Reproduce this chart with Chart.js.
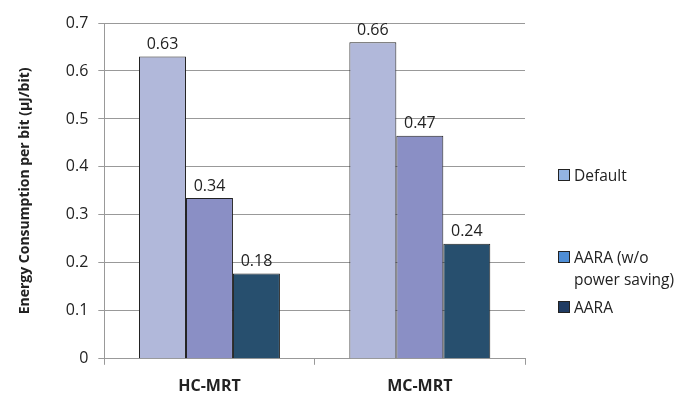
<!DOCTYPE html>
<html>
<head>
<meta charset="utf-8">
<script src="https://cdn.jsdelivr.net/npm/chart.js@4"></script>
<style>
  html, body { margin: 0; padding: 0; background: #fff; }
  #wrap { position: relative; width: 685px; height: 407px; }
  #legend { position: absolute; left: 558px; top: 162px; font-family: "Open Sans", sans-serif; font-size: 15.5px; color: #222; }
  .item { position: absolute; left: 0; white-space: nowrap; line-height: 22px; }
  .sw { position: absolute; left: 0; top: 5px; width: 10px; height: 10px; border: 1px solid #222; }
  .txt { position: absolute; left: 16px; top: 0; }
</style>
</head>
<body>
<div id="wrap">
  <canvas id="myChart" width="685" height="407"></canvas>
  <div id="legend"></div>
</div>
<script>
const categories = ["HC-MRT", "MC-MRT"];
const seriesNames = ["Default", "AARA (w/o power saving)", "AARA"];
const defaultValues = [0.63, 0.66];
const aaraNoSavingValues = [0.335, 0.465];
const aaraValues = [0.178, 0.24];
const valueLabels = [["0.63", "0.66"], ["0.34", "0.47"], ["0.18", "0.24"]];

const barColors = ["#b1b8da", "#8a8fc5", "#274f6e"];
const legendColors = ["#93b3e2", "#4f8ed6", "#1f3b62"];

// legend drawn as html so the two-line entry spacing matches
const legendEl = document.getElementById("legend");
const legendRows = [
  { top: 2, lines: ["Default"] },
  { top: 84, lines: ["AARA (w/o", "power saving)"] },
  { top: 134, lines: ["AARA"] },
];
legendRows.forEach((row, i) => {
  const d = document.createElement("div");
  d.className = "item";
  d.style.top = row.top + "px";
  d.innerHTML = '<span class="sw" style="background:' + legendColors[i] + '"></span>' +
    '<span class="txt">' + row.lines.join("<br>") + "</span>";
  legendEl.appendChild(d);
});

const valueLabelPlugin = {
  id: "valueLabels",
  afterDatasetsDraw(chart) {
    const c = chart.ctx;
    c.save();
    c.font = '16px "Open Sans", sans-serif';
    c.fillStyle = "#222";
    c.textAlign = "center";
    c.textBaseline = "bottom";
    chart.data.datasets.forEach((ds, i) => {
      chart.getDatasetMeta(i).data.forEach((bar, j) => {
        c.fillText(valueLabels[i][j], bar.x, bar.y - 4);
      });
    });
    c.restore();
  },
};

const ctx = document.getElementById("myChart");
new Chart(ctx, {
  type: "bar",
  data: {
    labels: categories,
    datasets: [
      { label: seriesNames[0], data: defaultValues, backgroundColor: barColors[0] },
      { label: seriesNames[1], data: aaraNoSavingValues, backgroundColor: barColors[1] },
      { label: seriesNames[2], data: aaraValues, backgroundColor: barColors[2] },
    ].map((d) => ({ ...d, borderColor: "#222", borderWidth: 1, categoryPercentage: 0.67, barPercentage: 1 })),
  },
  options: {
    responsive: false,
    animation: false,
    layout: { padding: { top: 23, right: 160, bottom: -1, left: 13 } },
    plugins: { legend: { display: false }, tooltip: { enabled: false } },
    scales: {
      x: {
        grid: { drawOnChartArea: false, drawTicks: true, tickLength: 6, color: "#999", offset: true },
        border: { color: "#999" },
        ticks: { color: "#222", font: { family: "Open Sans", size: 16, weight: "bold" }, padding: 12 },
      },
      y: {
        min: 0,
        max: 0.7,
        ticks: { stepSize: 0.1, color: "#222", font: { family: "Open Sans", size: 16 }, padding: 10,
          callback: (v) => (Math.round(v * 10) / 10).toString() },
        grid: { color: "#999", tickLength: 6 },
        border: { color: "#999" },
        title: { display: true, text: "Energy Consumption per bit (\u00b5J/bit)", color: "#222",
          font: { family: "Open Sans", size: 14, weight: "bold" }, padding: { bottom: 22 } },
      },
    },
  },
  plugins: [valueLabelPlugin],
});
</script>
</body>
</html>
